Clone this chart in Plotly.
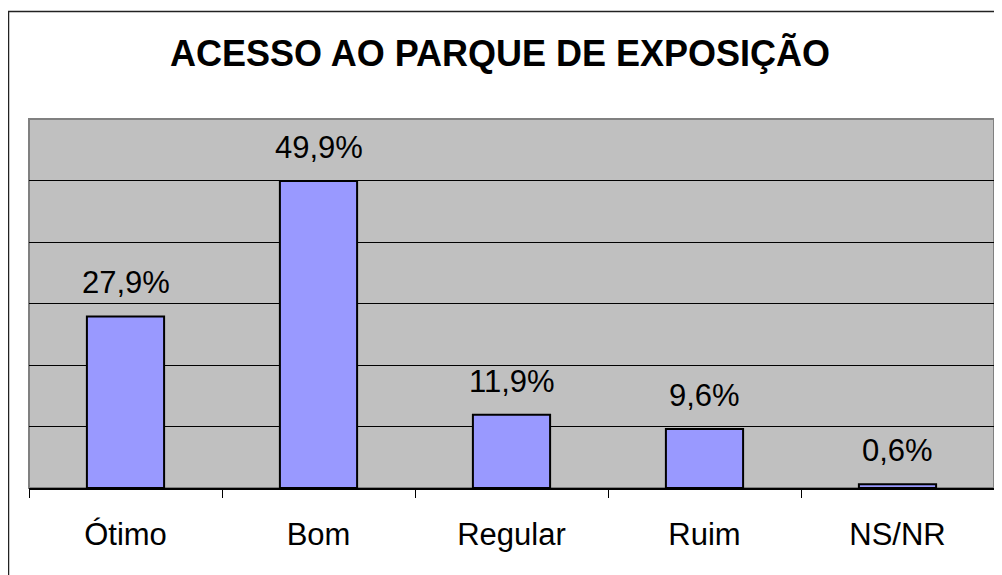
import plotly.graph_objects as go

categories = ["Ótimo", "Bom", "Regular", "Ruim", "NS/NR"]
values = [27.9, 49.9, 11.9, 9.6, 0.6]
labels = ["27,9%", "49,9%", "11,9%", "9,6%", "0,6%"]
title = "ACESSO AO PARQUE DE EXPOSIÇÃO"

FONT = "Liberation Sans, Arial, sans-serif"

fig = go.Figure()
fig.add_trace(go.Bar(
    x=categories, y=values, width=0.4,
    marker=dict(color="#9999FF", line=dict(color="black", width=2)),
    hoverinfo="skip",
))

for c, v, t in zip(categories, values, labels):
    fig.add_annotation(x=c, y=v, text=t, showarrow=False, yanchor="bottom",
                       yshift=14, font=dict(family=FONT, size=31, color="black"))

# page offset of the figure is 8px (body margin)
OFF = 8
W, H = 1002 - OFF, 575 - OFF
L, T = 29 - OFF, 119 - OFF
R = (1002 - 994)
B = (575 - 488)
pw, ph = W - L - R, H - T - B

# outer frame (page x=8 .. beyond, page y=11 .. beyond)
fig.add_shape(type="rect", xref="paper", yref="paper",
              x0=(8 - 29 + 0.5) / pw, x1=(1020 - 29) / pw,
              y0=-(600 - 488) / ph, y1=(488 - 11.5) / ph,
              line=dict(color="#222222", width=1.5), fillcolor="rgba(0,0,0,0)", layer="below")
# plot area border
fig.add_shape(type="rect", xref="paper", yref="paper", x0=0, x1=1, y0=0, y1=1,
              line=dict(color="#808080", width=2), fillcolor="rgba(0,0,0,0)", layer="below")

fig.update_layout(
    width=W, height=H,
    margin=dict(l=L, r=R, t=T, b=B),
    paper_bgcolor="white", plot_bgcolor="#C0C0C0",
    showlegend=False,
    title=dict(text=f"<b>{title}</b>", x=(500 - OFF) / W, xanchor="center", xref="container",
               y=1 - (53 - OFF) / H, yanchor="middle", yref="container",
               font=dict(family=FONT, size=36, color="black")),
    xaxis=dict(showline=True, linecolor="black", linewidth=1.5, ticks="outside",
               tickson="boundaries", ticklen=8, tickcolor="black", tickwidth=1,
               tickfont=dict(family=FONT, size=31, color="black"),
               showgrid=False, ticklabelstandoff=18),
    yaxis=dict(range=[0, 60], dtick=10, showticklabels=False, showgrid=True,
               gridcolor="black", gridwidth=1, zeroline=False, showline=False),
)

fig.write_html("out.html")
